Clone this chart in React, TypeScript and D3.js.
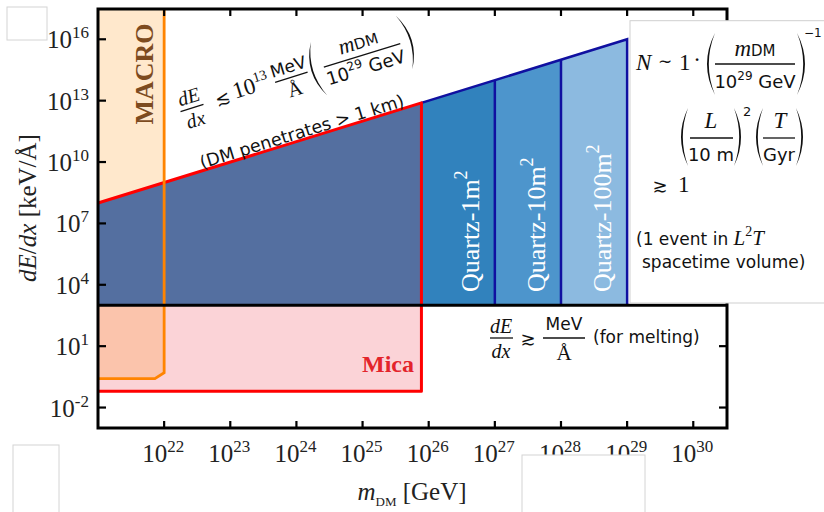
import React, { useRef, useEffect } from 'react';
import * as d3 from 'd3';

// axis ranges (log10 of GeV and keV/Å)
const massDomain = [1e21, 10 ** 30.51];
const dEdxDomain = [1e-3, 10 ** 17.48];
const xDecades = [22, 23, 24, 25, 26, 27, 28, 29, 30];
const yDecades = [16, 13, 10, 7, 4, 1, -2];

// dE/dx <~ 1e13 MeV/Å (m / 1e29 GeV)  ->  1e16 keV/Å at 1e29 GeV
const penetrationNorm = 1e16;
const penetrationMass = 1e29;
const meltThreshold = 1e3; // 1 MeV/Å
const micaMaxMass = 10 ** 25.89;
const micaFloor = 10 ** -1.2;
const macroMass = 1e22;
const macroKnee: [number, number][] = [[1e22, 10 ** -0.3], [10 ** 21.86, 10 ** -0.59]];
const quartzLabels = ['Quartz-1m', 'Quartz-10m', 'Quartz-100m'];
const quartzMaxMass = [1e27, 1e28, 1e29];
const quartzLabelMass = [10 ** 26.5, 10 ** 27.5, 10 ** 28.5];
const quartzColors = ['#3182bd', '#4d95cc', '#8cbae0'];

const SERIF = '"Liberation Serif", "Times New Roman", serif';
const SANS = '"DejaVu Sans", sans-serif';

type Part = { t: string; f?: string; s?: number; i?: boolean; dy?: number; dx?: number };

function rich(g: any, x: number, y: number, parts: Part[], anchor = 'start', fill = '#111') {
  const text = g.append('text').attr('x', x).attr('y', y).attr('text-anchor', anchor).attr('fill', fill);
  parts.forEach(p => {
    const ts = text.append('tspan').text(p.t)
      .attr('font-family', p.f ?? SERIF)
      .attr('font-size', p.s ?? 20);
    if (p.i) ts.attr('font-style', 'italic');
    if (p.dy) ts.attr('dy', p.dy);
    if (p.dx) ts.attr('dx', p.dx);
  });
  return text;
}

function paren(g: any, x0: number, top: number, bottom: number, left: boolean, w = 8) {
  const mid = (top + bottom) / 2;
  const d = left
    ? `M${x0 + w},${top} Q${x0 - w},${mid} ${x0 + w},${bottom} Q${x0 - w + 3.6},${mid} ${x0 + w},${top} Z`
    : `M${x0},${top} Q${x0 + 2 * w},${mid} ${x0},${bottom} Q${x0 + 2 * w - 3.6},${mid} ${x0},${top} Z`;
  g.append('path').attr('d', d).attr('fill', '#111');
}

function bar(g: any, x1: number, x2: number, yy: number) {
  g.append('line').attr('x1', x1).attr('x2', x2).attr('y1', yy).attr('y2', yy)
    .attr('stroke', '#111').attr('stroke-width', 1.3);
}

export default function App() {
  const ref = useRef<SVGSVGElement>(null);

  useEffect(() => {
    if (!ref.current) return;
    const svg = d3.select(ref.current);
    svg.selectAll('*').remove();

    const x = d3.scaleLog().domain(massDomain).range([98, 727]);
    const y = d3.scaleLog().domain(dEdxDomain).range([428, 9]);
    const bound = (m: number) => penetrationNorm * m / penetrationMass;
    const pt = (m: number, v: number): [number, number] => [x(m), y(v)];
    const line = d3.line();
    const m0 = massDomain[0];
    const top = dEdxDomain[1];

    // Mica (below melting threshold)
    svg.append('path')
      .attr('d', line([pt(m0, micaFloor), pt(micaMaxMass, micaFloor), pt(micaMaxMass, meltThreshold), pt(m0, meltThreshold)]) + 'Z')
      .attr('fill', '#fbd3d7');

    // MACRO excluded region
    const macroPoly = [pt(m0, top), pt(macroMass, top), ...macroKnee.map(([m, v]) => pt(m, v)), pt(m0, macroKnee[1][1])];
    svg.append('path').attr('d', line(macroPoly) + 'Z')
      .attr('fill', '#ff8c00').attr('fill-opacity', 0.2);

    // Quartz regions, largest first
    for (let i = quartzMaxMass.length - 1; i >= 0; i--) {
      const qm = quartzMaxMass[i];
      svg.append('path')
        .attr('d', line([pt(m0, meltThreshold), pt(m0, bound(m0)), pt(qm, bound(qm)), pt(qm, meltThreshold)]) + 'Z')
        .attr('fill', quartzColors[i]);
    }

    // Mica above melting threshold (DM penetrates)
    svg.append('path')
      .attr('d', line([pt(m0, meltThreshold), pt(m0, bound(m0)), pt(micaMaxMass, bound(micaMaxMass)), pt(micaMaxMass, meltThreshold)]) + 'Z')
      .attr('fill', '#546fa0');

    // Quartz outlines
    const navy = '#1010a0';
    svg.append('path')
      .attr('d', line([pt(micaMaxMass, bound(micaMaxMass)), pt(1e29, bound(1e29)), pt(1e29, meltThreshold)]))
      .attr('fill', 'none').attr('stroke', navy).attr('stroke-width', 2.5);
    quartzMaxMass.slice(0, 2).forEach(qm => {
      svg.append('path').attr('d', line([pt(qm, bound(qm)), pt(qm, meltThreshold)]))
        .attr('fill', 'none').attr('stroke', navy).attr('stroke-width', 2.5);
    });

    // Mica outline
    svg.append('path')
      .attr('d', line([pt(m0, bound(m0)), pt(micaMaxMass, bound(micaMaxMass)), pt(micaMaxMass, micaFloor), pt(m0, micaFloor)]))
      .attr('fill', 'none').attr('stroke', '#ff0000').attr('stroke-width', 3).attr('stroke-linejoin', 'round');

    // MACRO outline
    svg.append('path')
      .attr('d', line([pt(macroMass, top), ...macroKnee.map(([m, v]) => pt(m, v)), pt(m0, macroKnee[1][1])]))
      .attr('fill', 'none').attr('stroke', '#ff8400').attr('stroke-width', 2.8);

    // melting threshold
    svg.append('line').attr('x1', x(m0)).attr('x2', x(massDomain[1]))
      .attr('y1', y(meltThreshold)).attr('y2', y(meltThreshold))
      .attr('stroke', '#000').attr('stroke-width', 3);

    // ticks
    const tk = svg.append('g').attr('stroke', '#000').attr('stroke-width', 2.2);
    xDecades.forEach(d => {
      const xx = x(10 ** d);
      tk.append('line').attr('x1', xx).attr('x2', xx).attr('y1', 428).attr('y2', 421);
      tk.append('line').attr('x1', xx).attr('x2', xx).attr('y1', 9).attr('y2', 16);
    });
    yDecades.forEach(d => {
      const yy = y(10 ** d);
      tk.append('line').attr('x1', 98).attr('x2', 106).attr('y1', yy).attr('y2', yy);
      tk.append('line').attr('x1', 727).attr('x2', 719).attr('y1', yy).attr('y2', yy);
    });

    // frame
    svg.append('rect').attr('x', 98).attr('y', 9).attr('width', 629).attr('height', 419)
      .attr('fill', 'none').attr('stroke', '#000').attr('stroke-width', 3);

    // tick labels
    xDecades.forEach(d => {
      rich(svg, x(10 ** d) - 1, 462, [{ t: '10', s: 25 }, { t: String(d), s: 17, dy: -10 }], 'middle', '#222');
    });
    yDecades.forEach(d => {
      rich(svg, 89, y(10 ** d) + 9, [{ t: '10', s: 25 }, { t: String(d), s: 17, dy: -10 }], 'end', '#222');
    });

    // axis titles
    rich(svg, 412, 500, [{ t: 'm', s: 25, i: true }, { t: 'DM', s: 13, dy: 6 }, { t: ' [GeV]', s: 25, dy: -6 }], 'middle', '#222');
    const yt = svg.append('g').attr('transform', 'translate(36,208) rotate(-90)');
    rich(yt, 0, 0, [{ t: 'dE', s: 25, i: true }, { t: '/', s: 25 }, { t: 'dx', s: 25, i: true }, { t: ' [keV/Å]', s: 25 }], 'middle', '#222');

    // region labels
    svg.append('text').attr('transform', 'translate(153,74) rotate(-90)')
      .attr('text-anchor', 'middle').attr('font-family', SERIF).attr('font-weight', 'bold')
      .attr('font-size', 26).attr('fill', '#7d4b1f').text('MACRO');
    svg.append('text').attr('x', 414).attr('y', 372).attr('text-anchor', 'end')
      .attr('font-family', SERIF).attr('font-weight', 'bold').attr('font-size', 24)
      .attr('fill', '#e3242b').text('Mica');
    quartzLabels.forEach((lab, i) => {
      const g = svg.append('g').attr('transform', `translate(${x(quartzLabelMass[i]) + 17},292) rotate(-90)`);
      rich(g, 0, 0, [{ t: lab, s: 26 }, { t: '2', s: 18, dy: -12 }], 'start', '#fff');
    });

    // penetration formula, along the bound
    const ang = Math.atan2(y(bound(micaMaxMass)) - y(bound(m0)), x(micaMaxMass) - x(m0)) * 180 / Math.PI;
    const pf = svg.append('g').attr('transform', `translate(192,108) rotate(${ang})`);
    rich(pf, 0, -5, [{ t: 'dE', s: 20, i: true }], 'middle');
    bar(pf, -12, 12, 0);
    rich(pf, 0, 19, [{ t: 'dx', s: 20, i: true }], 'middle');
    rich(pf, 32, 6, [{ t: '≲', f: SANS, s: 18 }], 'middle');
    rich(pf, 44, 4, [{ t: '10', s: 23 }, { t: '13', s: 14, dy: -10 }]);
    rich(pf, 104, -5, [{ t: 'MeV', f: SANS, s: 17 }], 'middle');
    bar(pf, 87, 121, 0);
    rich(pf, 104, 19, [{ t: 'Å', s: 20 }], 'middle');
    paren(pf, 125, -28, 28, true);
    rich(pf, 178, -7, [{ t: 'm', s: 22, i: true }, { t: 'DM', f: SANS, s: 15 }], 'middle');
    bar(pf, 138, 218, 0);
    rich(pf, 178, 19, [{ t: '10', f: SANS, s: 18 }, { t: '29', f: SANS, s: 12, dy: -8 }, { t: ' GeV', f: SANS, s: 18, dy: 8 }], 'middle');
    paren(pf, 222, -28, 28, false);
    rich(pf, 98, 61, [{ t: '(DM penetrates  > 1 km)', f: SANS, s: 17.5 }], 'middle');

    // melting threshold formula
    rich(svg, 501, 333, [{ t: 'dE', s: 20, i: true }], 'middle');
    bar(svg, 490, 513, 338);
    rich(svg, 501, 358, [{ t: 'dx', s: 20, i: true }], 'middle');
    rich(svg, 528, 345, [{ t: '≳', f: SANS, s: 18 }], 'middle');
    rich(svg, 564, 330, [{ t: 'MeV', f: SANS, s: 17 }], 'middle');
    bar(svg, 543, 585, 338);
    rich(svg, 564, 360, [{ t: 'Å', s: 21 }], 'middle');
    rich(svg, 593, 343, [{ t: '(for melting)', f: SANS, s: 17 }]);

    // event-count box
    svg.append('rect').attr('x', 630).attr('y', 20.7).attr('width', 200).attr('height', 282.3)
      .attr('fill', '#fff').attr('stroke', '#cfcfcf').attr('stroke-width', 1);
    rich(svg, 636, 70, [{ t: 'N', s: 23, i: true }]);
    rich(svg, 665, 67, [{ t: '∼', f: SANS, s: 17 }], 'middle');
    rich(svg, 679, 70, [{ t: '1', s: 23 }]);
    rich(svg, 697, 67, [{ t: '·', s: 23 }], 'middle');
    paren(svg, 707, 33, 95, true, 8);
    rich(svg, 755, 56, [{ t: 'm', s: 23, i: true }, { t: 'DM', f: SANS, s: 15 }], 'middle');
    bar(svg, 715, 795, 64);
    rich(svg, 755, 88, [{ t: '10', f: SANS, s: 18 }, { t: '29', f: SANS, s: 12, dy: -8 }, { t: ' GeV', f: SANS, s: 18, dy: 8 }], 'middle');
    paren(svg, 797, 33, 95, false, 8);
    rich(svg, 804, 37, [{ t: '−1', f: SANS, s: 12 }]);

    paren(svg, 681, 108, 166, true, 7);
    rich(svg, 711, 128, [{ t: 'L', s: 23, i: true }], 'middle');
    bar(svg, 690, 733, 138);
    rich(svg, 711, 161, [{ t: '10 m', f: SANS, s: 18 }], 'middle');
    paren(svg, 734, 108, 166, false, 7);
    rich(svg, 743, 116, [{ t: '2', f: SANS, s: 13 }]);
    paren(svg, 756, 108, 166, true, 7);
    rich(svg, 780, 128, [{ t: 'T', s: 23, i: true }], 'middle');
    bar(svg, 763, 795, 138);
    rich(svg, 779, 161, [{ t: 'Gyr', f: SANS, s: 18 }], 'middle');
    paren(svg, 796, 108, 166, false, 7);

    rich(svg, 660, 192, [{ t: '≳', f: SANS, s: 18 }], 'middle');
    rich(svg, 678, 192, [{ t: '1', s: 23 }]);

    rich(svg, 636, 245, [{ t: '(1 event in ', f: SANS, s: 17 }, { t: 'L', s: 21, i: true }, { t: '2', s: 14, dy: -9 }, { t: 'T', s: 21, i: true, dy: 9 }]);
    rich(svg, 642, 268, [{ t: 'spacetime volume)', f: SANS, s: 17 }]);

    // stray blank panels present in the figure
    const blank = [[7, 7, 40, 33], [13, 445, 46, 80], [522, 455, 123, 70]];
    blank.forEach(([bx, by, bw, bh]) => {
      svg.append('rect').attr('x', bx).attr('y', by).attr('width', bw).attr('height', bh)
        .attr('fill', '#fff').attr('stroke', '#d4d4d4').attr('stroke-width', 1);
    });
  }, []);

  return (
    <svg ref={ref} width={824} height={512}
      style={{ position: 'absolute', left: 0, top: 0, background: '#fff' }} />
  );
}
